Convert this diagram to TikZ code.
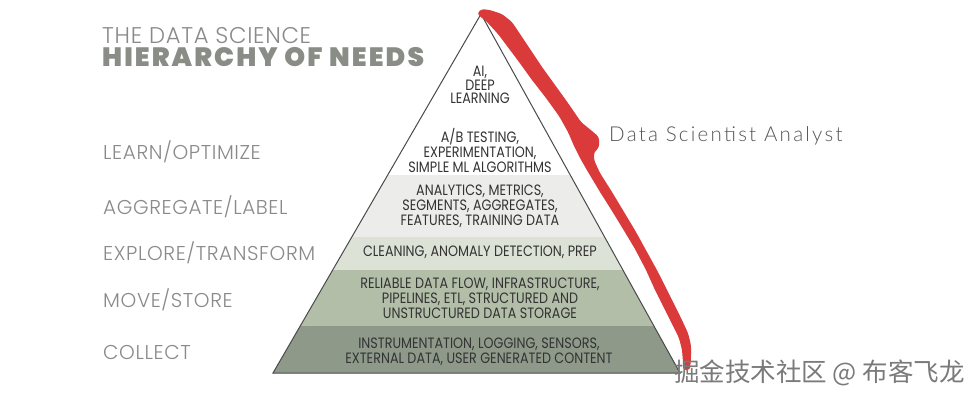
\documentclass[tikz,border=0pt]{standalone}
\usepackage{fontspec}
\usetikzlibrary{calc}
\setmainfont{Poppins}
\IfFontExistsTF{Poppins Light}{\newfontfamily\lightf[LetterSpace=3]{Poppins Light}}{\newfontfamily\lightf[LetterSpace=3]{Poppins}}
\IfFontExistsTF{Poppins Black}{\newfontfamily\heavyf[LetterSpace=8]{Poppins Black}}{%
  \IfFontExistsTF{Poppins ExtraBold}{\newfontfamily\heavyf[LetterSpace=8]{Poppins ExtraBold}}{\newfontfamily\heavyf[LetterSpace=8]{Poppins}[UprightFont=*,BoldFont=* Bold]\bfseries}}
\newfontfamily\pyrf[FakeStretch=0.85]{Poppins}
\IfFontExistsTF{Lato Light}{\newfontfamily\dsaf[LetterSpace=11]{Lato Light}}{\newfontfamily\dsaf[LetterSpace=11]{Lato}}
\newfontfamily\cjkf{Noto Sans CJK SC}
\definecolor{labgray}{HTML}{8A8A8A}
\definecolor{titgray}{HTML}{8A8D86}
\definecolor{bandA}{HTML}{ECEDEA}
\definecolor{bandB}{HTML}{DCE2D6}
\definecolor{bandC}{HTML}{B3BEA9}
\definecolor{bandD}{HTML}{8E998A}
\definecolor{edgegray}{HTML}{4A4A4A}
\definecolor{txtdark}{HTML}{333333}
\definecolor{redline}{HTML}{DB3A3A}
\definecolor{dsagray}{HTML}{555555}
\definecolor{wmgray}{HTML}{7A7A7A}
\tikzset{
  sidelabel/.style={anchor=west, inner sep=0pt, text=labgray, font=\lightf\fontsize{20}{20}\selectfont},
  pyrtext/.style={inner sep=0pt, align=center, text=txtdark, font=\pyrf\fontsize{15}{15}\selectfont},
}
\begin{document}
\begin{tikzpicture}[x=1pt,y=-1pt]
\useasboundingbox (0,0) rectangle (975,400);
\fill[white] (0,0) rectangle (975,400);
% pyramid geometry
\coordinate (apex) at (481,14);
\coordinate (bl) at (273,373);
\coordinate (br) at (680,373);
\coordinate (l1) at ($(apex)!0.4485!(bl)$);
\coordinate (r1) at ($(apex)!0.4485!(br)$);
\coordinate (l2) at ($(apex)!0.6212!(bl)$);
\coordinate (r2) at ($(apex)!0.6212!(br)$);
\coordinate (l3) at ($(apex)!0.7131!(bl)$);
\coordinate (r3) at ($(apex)!0.7131!(br)$);
\coordinate (l4) at ($(apex)!0.8691!(bl)$);
\coordinate (r4) at ($(apex)!0.8691!(br)$);
% bands
\fill[bandA] (l1) -- (r1) -- (r2) -- (l2) -- cycle;
\fill[bandB] (l2) -- (r2) -- (r3) -- (l3) -- cycle;
\fill[bandC] (l3) -- (r3) -- (r4) -- (l4) -- cycle;
\fill[bandD] (l4) -- (r4) -- (br) -- (bl) -- cycle;
\draw[edgegray, line width=1pt, line join=miter] (apex) -- (br) -- (bl) -- cycle;
% red hand-drawn line
\fill[redline, rounded corners=3pt]
  (477,14) -- (486,21) -- (498,34) -- (510,50) -- (519,62) -- (532,80) -- (546,98)
  -- (559,116) -- (568,132) -- (574,146) -- (580,158) -- (588,172) -- (600,192)
  -- (612,211) -- (623,229) -- (635,249) -- (646,270) -- (655,290) -- (664,308)
  -- (672,324) -- (679,338) -- (682,350) -- (683,362) -- (683,370)
  -- (690,370) -- (691,358) -- (691,345) -- (688,333) -- (681,318) -- (673,302)
  -- (667,290) -- (658,272) -- (647,252) -- (636,232) -- (624,212) -- (612,192)
  -- (600,173) -- (594,160) -- (594,152) -- (599,148) -- (599,137) -- (592,131)
  -- (581,122) -- (568,103) -- (555,85) -- (542,67) -- (534,55) -- (522,37)
  -- (512,22) -- (502,14) -- (490,10) -- (481,9) -- cycle;
% title
\node[anchor=base west, inner sep=0pt, text=labgray, font=\lightf\fontsize{22.7}{22.7}\selectfont] (t1) at (102,43) {THE DATA SCIENCE};
\node[anchor=base west, inner sep=0pt, text=titgray, font=\heavyf\fontsize{26.5}{26.5}\selectfont] (t2) at (102,66) {HIERARCHY OF NEEDS};
% side labels
\node[sidelabel] (s1) at (103,152) {LEARN/OPTIMIZE};
\node[sidelabel] (s2) at (103,207) {AGGREGATE/LABEL};
\node[sidelabel] (s3) at (103,253) {EXPLORE/TRANSFORM};
\node[sidelabel] (s4) at (103,300) {MOVE/STORE};
\node[sidelabel] (s5) at (103,352) {COLLECT};
% pyramid texts
\node[pyrtext, font=\pyrf\fontsize{15}{13.5}\selectfont] (p1) at (480,85) {AI,\\DEEP\\LEARNING};
\node[pyrtext] (p2) at (480,150) {A/B TESTING,\\EXPERIMENTATION,\\SIMPLE ML ALGORITHMS};
\node[pyrtext] (p3) at (480,206) {ANALYTICS, METRICS,\\SEGMENTS, AGGREGATES,\\FEATURES, TRAINING DATA};
\node[pyrtext] (p4) at (480,252) {CLEANING, ANOMALY DETECTION, PREP};
\node[pyrtext] (p5) at (480,298) {RELIABLE DATA FLOW, INFRASTRUCTURE,\\PIPELINES, ETL, STRUCTURED AND\\UNSTRUCTURED DATA STORAGE};
\node[pyrtext] (p6) at (479,351.5) {INSTRUMENTATION, LOGGING, SENSORS,\\EXTERNAL DATA, USER GENERATED CONTENT};
% role label
\node[anchor=west, inner sep=0pt, text=dsagray, font=\dsaf\fontsize{20.5}{20.5}\selectfont] (dsa) at (609,136) {Data Scientist Analyst};
% watermark
\node[anchor=west, inner sep=0pt, text=wmgray, font=\cjkf\fontsize{25.5}{25.5}\selectfont] (wm) at (674,373) {掘金技术社区 @ 布客飞龙};
\end{tikzpicture}
\end{document}
